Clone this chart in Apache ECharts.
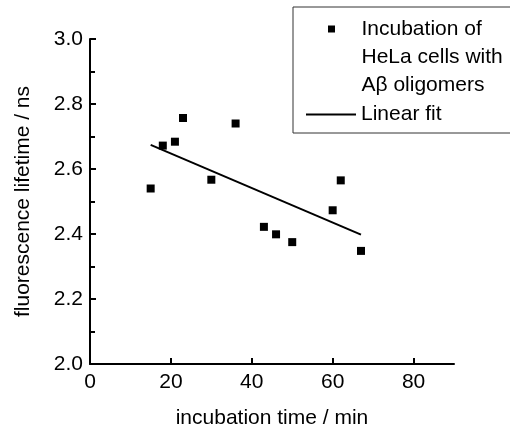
<!DOCTYPE html>
<html>
<head>
<meta charset="utf-8">
<script src="https://cdn.jsdelivr.net/npm/echarts@6/dist/echarts.min.js"></script>
<style>
  html, body { margin: 0; padding: 0; background: #fff; }
  #chart { width: 510px; height: 430px; }
</style>
</head>
<body>
<div id="chart"></div>
<script>
// measured points
const timeMin = [15, 18, 21, 23, 30, 36, 43, 46, 50, 60, 62, 67];
const lifetimeNs = [2.54, 2.672, 2.684, 2.757, 2.567, 2.74, 2.422, 2.399, 2.375, 2.473, 2.565, 2.348];
// linear fit end points
const fitX = [15, 67];
const fitY = [2.674, 2.398];
const xTicks = [0, 20, 40, 60, 80];

const font = "Liberation Sans, Arial, sans-serif";

var chart = echarts.init(document.getElementById("chart"));
var option = {
  backgroundColor: "#fff",
  animation: false,
  grid: { left: 90, right: 56, top: 39, bottom: 66, outerBoundsMode: "none", containLabel: false },
  xAxis: {
    type: "value",
    min: 0,
    max: 90,
    interval: 20,
    name: "incubation time / min",
    nameLocation: "middle",
    nameGap: 44,
    nameTextStyle: { color: "#000", fontSize: 21, fontFamily: font },
    splitLine: { show: false },
    axisLine: { lineStyle: { color: "#000", width: 2 } },
    axisTick: { inside: true, length: 6, lineStyle: { width: 2 }, customValues: xTicks },
    axisLabel: { color: "#000", fontSize: 21, fontFamily: font, margin: 8, customValues: xTicks },
  },
  yAxis: {
    type: "value",
    min: 2.0,
    max: 3.0,
    interval: 0.2,
    name: "fluorescence lifetime / ns",
    nameLocation: "middle",
    nameGap: 56,
    nameTextStyle: { color: "#000", fontSize: 21, fontFamily: font },
    splitLine: { show: false },
    axisLine: { show: true, lineStyle: { color: "#000", width: 2 } },
    axisTick: { inside: true, length: 6, lineStyle: { width: 2 } },
    minorTick: { show: true, splitNumber: 2, length: 5, lineStyle: { color: "#000", width: 2 } },
    axisLabel: {
      color: "#000", fontSize: 21, fontFamily: font, margin: 7,
      formatter: function(v) { return v.toFixed(1); },
    },
  },
  legend: [
    {
      data: [{ name: "Incubation of HeLa cells with Aβ oligomers", icon: "path://M0,0L1,0L1,1L0,1Z M0,9L0,9" }],
      left: 328,
      top: 15,
      padding: 0,
      itemWidth: 50,
      itemHeight: 63,
      selectedMode: false,
      formatter: function() { return "Incubation of\nHeLa cells with\nAβ oligomers"; },
      textStyle: { color: "#000", fontSize: 21, fontFamily: font, lineHeight: 28 },
    },
    {
      data: [{ name: "Linear fit", icon: "rect" }],
      left: 306,
      top: 104,
      padding: 0,
      itemWidth: 50,
      itemHeight: 2,
      selectedMode: false,
      itemStyle: { color: "#000" },
      textStyle: { color: "#000", fontSize: 21, fontFamily: font },
    },
  ],
  graphic: [
    {
      type: "rect",
      shape: { x: 293, y: 7, width: 230, height: 126 },
      style: { fill: "none", stroke: "#333", lineWidth: 1 },
    },
  ],
  series: [
    {
      name: "Incubation of HeLa cells with Aβ oligomers",
      type: "scatter",
      symbol: "rect",
      symbolSize: 8,
      itemStyle: { color: "#000", opacity: 1 },
      data: timeMin.map((t, i) => [t, lifetimeNs[i]]),
    },
    {
      name: "Linear fit",
      type: "line",
      symbol: "none",
      lineStyle: { color: "#000", width: 2 },
      data: fitX.map((t, i) => [t, fitY[i]]),
    },
  ],
};
chart.setOption(option);
</script>
</body>
</html>
